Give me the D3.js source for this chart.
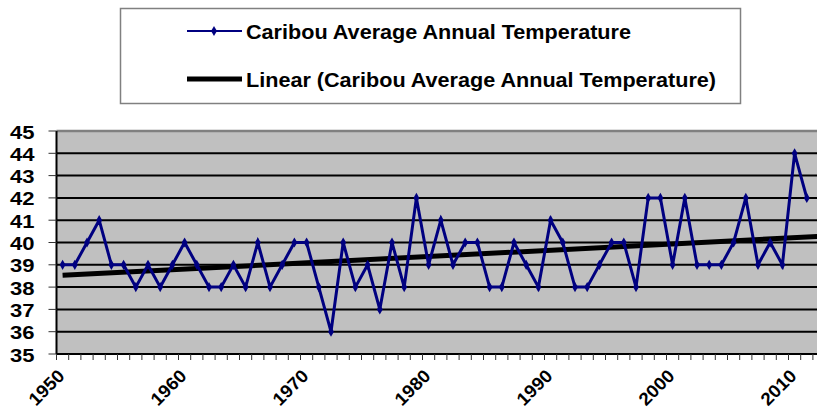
<!DOCTYPE html>
<html lang="en">
<head>
  <meta charset="UTF-8">
  <title>Caribou Average Annual Temperature</title>
  <script src="https://d3js.org/d3.v7.min.js"></script>
  <style>
    body { margin: 0; background: #fff; }
    text { font-family: "Liberation Sans", Arial, sans-serif; font-weight: bold; fill: #000; }
  </style>
</head>
<body>
<script>
var years = d3.range(1950, 2012);
var temps = [39, 39, 40, 41, 39, 39, 38, 39, 38, 39,
             40, 39, 38, 38, 39, 38, 40, 38, 39, 40,
             40, 38, 36, 40, 38, 39, 37, 40, 38, 42,
             39, 41, 39, 40, 40, 38, 38, 40, 39, 38,
             41, 40, 38, 38, 39, 40, 40, 38, 42, 42,
             39, 42, 39, 39, 39, 40, 42, 39, 40, 39,
             44, 42];
var yTicks = [35, 36, 37, 38, 39, 40, 41, 42, 43, 44, 45];
var xLabels = [1950, 1960, 1970, 1980, 1990, 2000, 2010];
var seriesName = "Caribou Average Annual Temperature";
var trendName = "Linear (Caribou Average Annual Temperature)";

var width = 817, height = 413;
var plotLeft = 56.5, plotTop = 131, plotBottom = 354;
var bw = 12.2;
// axis runs a little past the visible edge (chart is cropped on the right)
var allYears = d3.range(1950, 2014);

var svg = d3.select("body").append("svg")
    .attr("width", width).attr("height", height);

var x = d3.scaleBand().domain(allYears).range([plotLeft, plotLeft + bw * allYears.length]).padding(0);
var y = d3.scaleLinear().domain([35, 45]).range([plotBottom, plotTop]);
var cx = function(yr) { return x(yr) + x.bandwidth() / 2; };
var plotRight = plotLeft + bw * allYears.length;

// plot background
svg.append("rect")
    .attr("x", plotLeft).attr("y", plotTop)
    .attr("width", plotRight - plotLeft).attr("height", plotBottom - plotTop)
    .attr("fill", "#c0c0c0");

// gridlines
svg.selectAll("line.grid")
    .data(yTicks.filter(function(d) { return d > 35 && d < 45; }))
    .enter().append("line")
    .attr("x1", plotLeft).attr("x2", plotRight)
    .attr("y1", function(d) { return y(d); }).attr("y2", function(d) { return y(d); })
    .attr("stroke", "#000").attr("stroke-width", 2);

// top border
svg.append("line")
    .attr("x1", plotLeft).attr("x2", plotRight).attr("y1", plotTop).attr("y2", plotTop)
    .attr("stroke", "#808080").attr("stroke-width", 2.5);

// y axis
var yAxis = svg.append("g");
yAxis.append("line")
    .attr("x1", plotLeft).attr("x2", plotLeft).attr("y1", plotTop).attr("y2", plotBottom)
    .attr("stroke", "#000").attr("stroke-width", 2);
yAxis.selectAll("line.tk").data(yTicks).enter().append("line")
    .attr("x1", plotLeft - 8).attr("x2", plotLeft)
    .attr("y1", function(d) { return y(d); }).attr("y2", function(d) { return y(d); })
    .attr("stroke", "#333").attr("stroke-width", 1);
yAxis.selectAll("text").data(yTicks).enter().append("text")
    .attr("x", 34.5).attr("y", function(d) { return y(d) + 7.5; })
    .attr("text-anchor", "end")
    .attr("font-size", 19)
    .attr("textLength", 24.5).attr("lengthAdjust", "spacingAndGlyphs")
    .text(function(d) { return d; });

// x axis
var xAxis = svg.append("g");
xAxis.append("line")
    .attr("x1", plotLeft).attr("x2", plotRight).attr("y1", plotBottom).attr("y2", plotBottom)
    .attr("stroke", "#000").attr("stroke-width", 2);
xAxis.selectAll("line.tk").data(allYears).enter().append("line")
    .attr("x1", function(d) { return x(d); })
    .attr("x2", function(d) { return x(d); })
    .attr("y1", plotBottom).attr("y2", plotBottom + 6)
    .attr("stroke", "#333").attr("stroke-width", 1);
xAxis.selectAll("text").data(xLabels).enter().append("text")
    .attr("transform", function(d) { return "translate(" + (cx(d) + 3) + "," + 377 + ") rotate(-45)"; })
    .attr("text-anchor", "end")
    .attr("font-size", 18)
    .attr("textLength", 42).attr("lengthAdjust", "spacingAndGlyphs")
    .text(function(d) { return d; });

// linear trend (least squares on category index, like Excel)
var mx = d3.mean(years, function(d, i) { return i + 1; });
var my = d3.mean(temps);
var sxy = d3.sum(temps, function(d, i) { return (i + 1 - mx) * (d - my); });
var sxx = d3.sum(temps, function(d, i) { return (i + 1 - mx) * (i + 1 - mx); });
var slope = sxy / sxx, icpt = my - slope * mx;
var lastIdx = (plotRight - cx(1950)) / bw + 1;
svg.append("line")
    .attr("x1", cx(1950)).attr("y1", y(icpt + slope * 1))
    .attr("x2", plotRight).attr("y2", y(icpt + slope * lastIdx))
    .attr("stroke", "#000").attr("stroke-width", 5);

// series line
var line = d3.line()
    .x(function(d, i) { return cx(years[i]); })
    .y(function(d) { return y(d); });
svg.append("path")
    .datum(temps)
    .attr("d", line)
    .attr("fill", "none")
    .attr("stroke", "#000080").attr("stroke-width", 3);

var diamond = d3.symbol().type(d3.symbolDiamond).size(30);
svg.selectAll("path.pt").data(temps).enter().append("path")
    .attr("class", "pt")
    .attr("d", diamond)
    .attr("transform", function(d, i) { return "translate(" + cx(years[i]) + "," + y(d) + ")"; })
    .attr("fill", "#000080");

// legend
var lg = svg.append("g");
lg.append("rect")
    .attr("x", 120.5).attr("y", 8.5).attr("width", 620).attr("height", 95)
    .attr("fill", "#fff").attr("stroke", "#808080").attr("stroke-width", 1.5);
lg.append("line")
    .attr("x1", 187).attr("x2", 242).attr("y1", 31).attr("y2", 31)
    .attr("stroke", "#000080").attr("stroke-width", 2);
lg.append("path").attr("d", diamond).attr("transform", "translate(214,31)").attr("fill", "#000080");
lg.append("text")
    .attr("x", 246).attr("y", 38.5).attr("font-size", 20)
    .attr("textLength", 385).attr("lengthAdjust", "spacingAndGlyphs")
    .text(seriesName);
lg.append("line")
    .attr("x1", 187).attr("x2", 242).attr("y1", 79).attr("y2", 79)
    .attr("stroke", "#000").attr("stroke-width", 5);
lg.append("text")
    .attr("x", 246).attr("y", 86.5).attr("font-size", 20)
    .attr("textLength", 470).attr("lengthAdjust", "spacingAndGlyphs")
    .text(trendName);
</script>
</body>
</html>
